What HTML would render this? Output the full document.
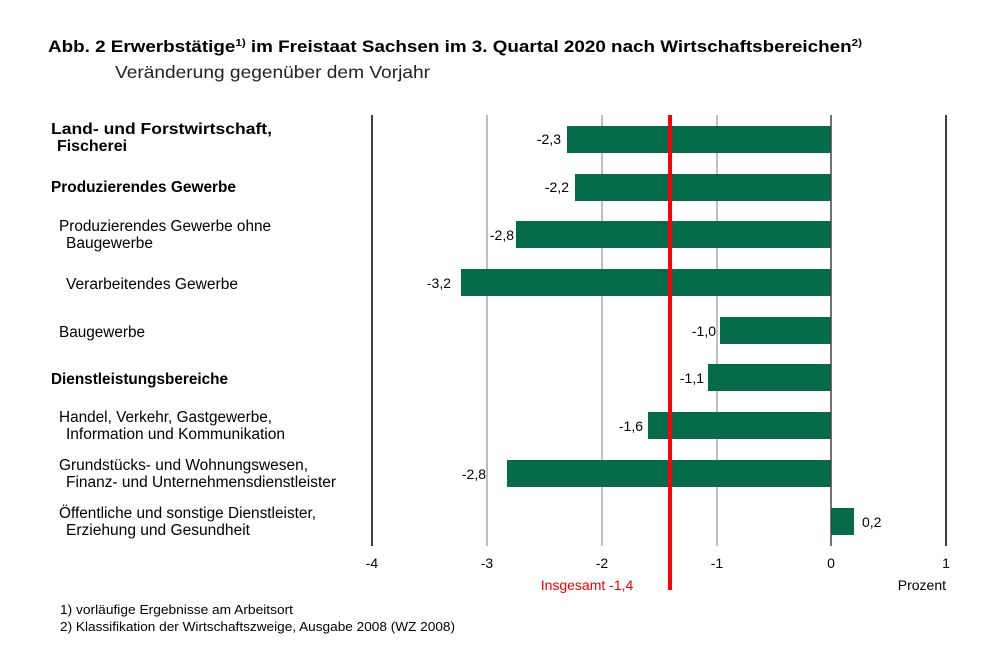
<!DOCTYPE html>
<html><head><meta charset="utf-8"><style>
body{margin:0;background:#fff;}
svg{display:block;font-family:"Liberation Sans",Arial,sans-serif;}
</style></head><body>
<svg width="1000" height="667" viewBox="0 0 1000 667">
<text x="48" y="52" font-size="17" font-weight="bold" fill="#000" textLength="814" lengthAdjust="spacingAndGlyphs">Abb. 2  Erwerbstätige<tspan font-size="10.5" dy="-6">1)</tspan><tspan dy="6"> im Freistaat Sachsen im 3. Quartal 2020 nach Wirtschaftsbereichen</tspan><tspan font-size="10.5" dy="-6">2)</tspan></text>
<text x="115" y="78" font-size="17.5" fill="#222" textLength="315" lengthAdjust="spacingAndGlyphs">Veränderung gegenüber dem Vorjahr</text>
<g stroke-width="1.5">
<line x1="372" y1="115" x2="372" y2="546" stroke="#000"/>
<line x1="487" y1="115" x2="487" y2="546" stroke="#aaa"/>
<line x1="602" y1="115" x2="602" y2="546" stroke="#aaa"/>
<line x1="717" y1="115" x2="717" y2="546" stroke="#aaa"/>
<line x1="946" y1="115" x2="946" y2="546" stroke="#000"/>
</g>
<g fill="#046b4b">
<rect x="567" y="126" width="264" height="27"/>
<rect x="575" y="174" width="256" height="27"/>
<rect x="516" y="221" width="315" height="27"/>
<rect x="461" y="269" width="370" height="27"/>
<rect x="720" y="317" width="111" height="27"/>
<rect x="708" y="364" width="123" height="27"/>
<rect x="648" y="412" width="183" height="27"/>
<rect x="507" y="460" width="324" height="27"/>
<rect x="831" y="508" width="23" height="27"/>
</g>
<line x1="831" y1="115" x2="831" y2="546" stroke="#444" stroke-width="1.5"/>
<line x1="670" y1="115" x2="670" y2="590" stroke="#f00" stroke-width="4"/>
<g font-size="14" fill="#000" text-anchor="end">
<text x="561" y="144">-2,3</text>
<text x="569" y="192">-2,2</text>
<text x="514" y="240">-2,8</text>
<text x="451" y="288">-3,2</text>
<text x="716" y="336">-1,0</text>
<text x="704" y="383">-1,1</text>
<text x="643" y="431">-1,6</text>
<text x="486" y="479">-2,8</text>
</g>
<text x="862" y="527" font-size="14">0,2</text>
<g font-size="14" text-anchor="middle">
<text x="372" y="568">-4</text><text x="487" y="568">-3</text><text x="602" y="568">-2</text>
<text x="717" y="568">-1</text><text x="831" y="568">0</text><text x="946" y="568">1</text>
</g>
<text x="587" y="590" font-size="14" fill="#e00" text-anchor="middle">Insgesamt -1,4</text>
<text x="946" y="590" font-size="14" text-anchor="end">Prozent</text>
<g font-size="15.5" fill="#000">
<text x="51" y="134" font-weight="bold" font-size="16" textLength="221" lengthAdjust="spacingAndGlyphs">Land- und Forstwirtschaft,</text>
<text x="57" y="151" font-weight="bold" font-size="16" textLength="70" lengthAdjust="spacingAndGlyphs">Fischerei</text>
<text x="51" y="192" font-weight="bold" textLength="185" lengthAdjust="spacingAndGlyphs">Produzierendes Gewerbe</text>
<text x="59" y="231" textLength="212" lengthAdjust="spacingAndGlyphs">Produzierendes Gewerbe ohne</text>
<text x="66" y="248" textLength="87" lengthAdjust="spacingAndGlyphs">Baugewerbe</text>
<text x="66" y="289" textLength="172" lengthAdjust="spacingAndGlyphs">Verarbeitendes Gewerbe</text>
<text x="59" y="337" textLength="86" lengthAdjust="spacingAndGlyphs">Baugewerbe</text>
<text x="51" y="384" font-weight="bold" textLength="177" lengthAdjust="spacingAndGlyphs">Dienstleistungsbereiche</text>
<text x="59" y="422" textLength="213" lengthAdjust="spacingAndGlyphs">Handel, Verkehr, Gastgewerbe,</text>
<text x="66" y="439" textLength="219" lengthAdjust="spacingAndGlyphs">Information und Kommunikation</text>
<text x="59" y="470" textLength="249" lengthAdjust="spacingAndGlyphs">Grundstücks- und Wohnungswesen,</text>
<text x="66" y="487" textLength="270" lengthAdjust="spacingAndGlyphs">Finanz- und Unternehmensdienstleister</text>
<text x="59" y="518" textLength="257" lengthAdjust="spacingAndGlyphs">Öffentliche und sonstige Dienstleister,</text>
<text x="66" y="535" textLength="184" lengthAdjust="spacingAndGlyphs">Erziehung und Gesundheit</text>
</g>
<g font-size="13" fill="#000">
<text x="60" y="614" textLength="233" lengthAdjust="spacingAndGlyphs">1) vorläufige Ergebnisse am Arbeitsort</text>
<text x="60" y="631" textLength="395" lengthAdjust="spacingAndGlyphs">2) Klassifikation der Wirtschaftszweige, Ausgabe 2008 (WZ 2008)</text>
</g>
</svg>
</body></html>
